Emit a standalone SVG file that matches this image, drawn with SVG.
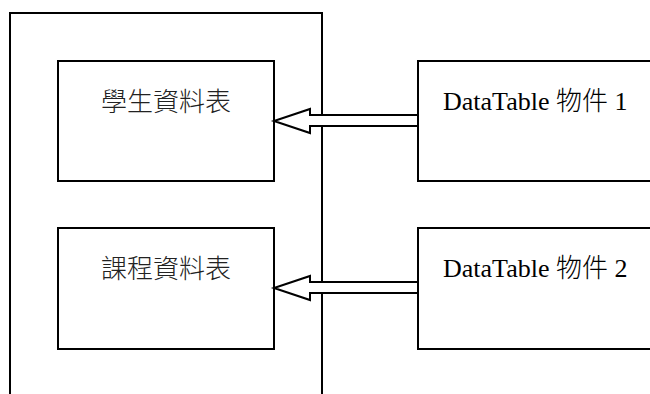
<svg xmlns="http://www.w3.org/2000/svg" width="650" height="394" viewBox="0 0 650 394">
<style>
.box{fill:#fff;stroke:#000;stroke-width:2}
.cjk{font-family:"Noto Sans CJK TC","Noto Sans CJK SC",sans-serif;font-size:26px;font-weight:300;fill:#222}
.lat{font-family:"Liberation Serif",serif;font-size:26px;fill:#000}
.lat tspan{font-family:"Noto Sans CJK TC","Noto Sans CJK SC",sans-serif;font-weight:300;font-size:26px}
.arr{fill:#fff;stroke:#000;stroke-width:2;stroke-linejoin:miter}
</style>
<rect width="650" height="394" fill="#fff"/>
<g id="frame"><path d="M10,394 V13 H322 V394" fill="none" stroke="#000" stroke-width="2"/></g>
<g id="student"><rect class="box" x="58" y="61" width="216" height="120"/><text class="cjk" x="166" y="111" text-anchor="middle">學生資料表</text></g>
<g id="course"><rect class="box" x="58" y="228" width="216" height="121"/><text class="cjk" x="166" y="278" text-anchor="middle">課程資料表</text></g>
<g id="dt1"><rect class="box" x="418" y="61" width="240" height="120"/><text class="lat" x="443" y="110">DataTable <tspan>物件</tspan> 1</text></g>
<g id="dt2"><rect class="box" x="418" y="228" width="240" height="121"/><text class="lat" x="443" y="277">DataTable <tspan>物件</tspan> 2</text></g>
<g id="connectors">
<path class="arr" d="M417,115 H310 V109 L274,121 L310,133 V126 H417"/>
<path class="arr" d="M417,282 H310 V276 L274,288 L310,300 V293 H417"/>
</g>
</svg>
